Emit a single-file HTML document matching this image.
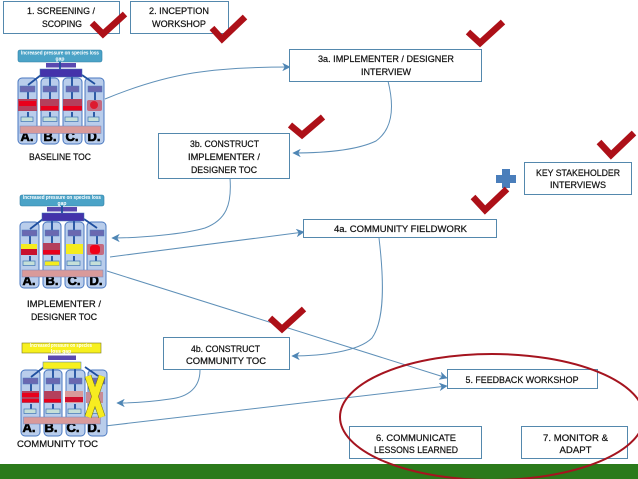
<!DOCTYPE html>
<html><head><meta charset="utf-8"><style>
html,body{margin:0;padding:0;background:#fff}
svg{display:block}
text{font-family:"Liberation Sans",sans-serif;font-size:9.500px;fill:#111;text-anchor:middle;stroke:#111;stroke-width:.22}
.b{fill:#fff;stroke:#5488ad;stroke-width:1}
.c{fill:none;stroke:#5f90b8;stroke-width:1}
.k{fill:none;stroke:#ad1018;stroke-width:6.500}
.col{fill:#b9cdeb;stroke:#4a78c0;stroke-width:1}
.p{fill:#6a68b0;stroke:#4a78c0;stroke-width:.5}
.g{fill:#c5dfd8;stroke:#3f74b5;stroke-width:.7}
.l{stroke:#1f4f9f;stroke-width:1.800;fill:none}
.lt{font-size:13px;font-weight:bold;fill:#000;stroke:#000;stroke-width:.6}
.tiny{font-size:5px;font-weight:bold;fill:#fff;stroke:none}
</style></head><body>
<svg width="638" height="479" viewBox="0 0 638 479" xmlns="http://www.w3.org/2000/svg">
<defs>
<marker id="a" markerWidth="9" markerHeight="8" refX="8" refY="4" orient="auto" markerUnits="userSpaceOnUse"><path d="M1,.5 L8,4 L1,7.5 L3,4 Z" fill="#4f86b5" stroke="#4f86b5" stroke-width=".6"/></marker>
<g id="cols">
<rect class="col" x="18" y="78" width="19" height="66" rx="4"/>
<rect class="col" x="41" y="78" width="18" height="66" rx="4"/>
<rect class="col" x="63" y="78" width="19" height="66" rx="4"/>
<rect class="col" x="85" y="78" width="19" height="66" rx="4"/>
<path class="l" d="M50,77 V86 M72,77 V86 M28,85 L41,75 M82,75 L95,84 M28,92 V100 M50,92 V100 M72,92 V100 M95,92 V100 M28,112 V117 M50,112 V117 M72,112 V117 M94,112 V117"/>
<rect class="p" x="20" y="86" width="15" height="6"/><rect class="p" x="43" y="86" width="14" height="6"/><rect class="p" x="66" y="86" width="13" height="6"/><rect class="p" x="88" y="86" width="14" height="6"/>
<rect class="g" x="21" y="117" width="12" height="4.500"/><rect class="g" x="43" y="117" width="14" height="4.500"/><rect class="g" x="65" y="117" width="13" height="4.500"/><rect class="g" x="88" y="117" width="11" height="4.500"/>
</g>
</defs>

<!-- ground -->
<rect x="0" y="464" width="638" height="15" fill="#2b7a1b"/>

<!-- connectors -->
<path class="c" marker-end="url(#a)" d="M105,99 C170,72 215,67 290,67"/>
<path class="c" marker-end="url(#a)" d="M388,81 C394,105 394,128 376,141 C355,151 320,153 293,153"/>
<path class="c" marker-end="url(#a)" d="M230,178 C232,205 226,220 205,228 C185,234 140,238 112,238"/>
<path class="c" marker-end="url(#a)" d="M110,257 L304,232"/>
<path class="c" marker-end="url(#a)" d="M107,271 L447,378"/>
<path class="c" marker-end="url(#a)" d="M379,238 C384,280 385,320 372,338 C358,352 320,356 292,356"/>
<path class="c" marker-end="url(#a)" d="M200,370 C200,388 188,397 170,399 C150,402 130,403 117,403"/>
<path class="c" marker-end="url(#a)" d="M105,426 L447,386"/>

<!-- mini TOC 1 -->
<g>
<use href="#cols"/>
<rect x="18" y="50" width="84" height="12" rx="2" fill="#4ba3c7" stroke="#2f7ea6" stroke-width=".6"/>
<text class="tiny" x="60" y="54.500" textLength="78" lengthAdjust="spacingAndGlyphs">Increased pressure on species loss</text>
<text class="tiny" x="60" y="60.500">gap</text>
<rect x="46" y="63" width="30" height="4.500" fill="#5a48b0"/>
<rect x="40" y="69" width="42" height="8" fill="#4433aa" stroke="#3f74b5" stroke-width=".5"/>
<path class="l" d="M60,62 V69"/>
<rect x="18" y="99" width="19" height="12" fill="#b4405c"/><rect x="19" y="101" width="17" height="5" fill="#e8001c"/>
<rect x="40" y="99" width="19" height="12" fill="#b4405c"/><rect x="41" y="106" width="17" height="4" fill="#e8001c"/>
<rect x="63" y="99" width="19" height="12" fill="#b4405c"/><rect x="63" y="106" width="19" height="4" fill="#e8001c"/>
<rect x="87" y="100" width="15" height="11" rx="2" fill="#c46a80"/><circle cx="94" cy="105" r="4" fill="#dd1a2e"/>
<text class="lt" x="27" y="141">A.</text><text class="lt" x="50" y="141">B.</text><text class="lt" x="72" y="141">C.</text><text class="lt" x="94" y="141">D.</text>
<rect x="20" y="126" width="81" height="7.500" fill="#d99a9a" stroke="#6f86c4" stroke-width=".5"/>
</g>

<!-- mini TOC 2 -->
<g transform="translate(2,144)">
<use href="#cols"/>
<rect x="18" y="51" width="84" height="11" rx="2" fill="#4ba3c7" stroke="#2f7ea6" stroke-width=".6"/>
<text class="tiny" x="60" y="55" textLength="78" lengthAdjust="spacingAndGlyphs">Increased pressure on species loss</text>
<text class="tiny" x="60" y="61">gap</text>
<rect x="45" y="63" width="30" height="4.500" fill="#5a48b0"/>
<rect x="40" y="69" width="42" height="8" fill="#4433aa" stroke="#3f74b5" stroke-width=".5"/>
<path class="l" d="M60,62 V69"/>
<rect x="19" y="100" width="16" height="5.500" fill="#f5ec1e"/><rect x="19" y="105" width="16" height="6" fill="#c8102e"/>
<rect x="41" y="99" width="17" height="12" fill="#b4405c"/><rect x="41" y="106" width="17" height="4" fill="#e8001c"/>
<rect x="64" y="100" width="17" height="10" fill="#f5ec1e"/>
<rect x="85" y="100" width="17" height="11" rx="2" fill="#c46a80"/><rect x="88" y="101" width="10" height="9" rx="3" fill="#f00018"/>
<rect x="43" y="117.500" width="14" height="4" fill="#f5ec1e"/>
<text class="lt" x="27" y="141">A.</text><text class="lt" x="50" y="141">B.</text><text class="lt" x="72" y="141">C.</text><text class="lt" x="94" y="141">D.</text>
<rect x="20" y="126" width="81" height="7" fill="#d99a9a" stroke="#6f86c4" stroke-width=".5"/>
</g>

<!-- mini TOC 3 -->
<g transform="translate(3,292)">
<use href="#cols"/>
<rect x="19" y="51" width="79" height="10" fill="#f7f01e" stroke="#7a7a20" stroke-width=".6"/>
<text class="tiny" x="58" y="55" textLength="62" lengthAdjust="spacingAndGlyphs">Increased pressure on species</text>
<text class="tiny" x="58" y="61">loss gap</text>
<rect x="45" y="63.500" width="28" height="4.500" fill="#5a48b0"/>
<rect x="40" y="70" width="38" height="7" fill="#f7f01e" stroke="#3f74b5" stroke-width=".5"/>
<rect x="19" y="99" width="17" height="12" fill="#b4405c"/><rect x="19" y="101" width="17" height="4" fill="#e8001c"/><rect x="19" y="107" width="17" height="3" fill="#e8001c"/>
<rect x="41" y="99" width="17" height="12" fill="#b4405c"/><rect x="41" y="107" width="17" height="3" fill="#e8001c"/>
<rect x="62" y="99" width="18" height="12" fill="#d99a9a"/><rect x="62" y="105" width="18" height="5" fill="#d0102e"/>
<rect x="83" y="100" width="17" height="11" fill="#c88a96"/>
<text class="lt" x="26" y="140">A.</text><text class="lt" x="48" y="140">B.</text><text class="lt" x="70" y="140">C.</text><text class="lt" x="91" y="140">D.</text>
<rect x="20.500" y="125" width="77" height="7" fill="#d99a9a" stroke="#6f86c4" stroke-width=".5"/>
<path d="M85,84 L99,125 M99,84 L85,125" fill="none" stroke="#6a6a10" stroke-width="7"/>
<path d="M85,84 L99,125 M99,84 L85,125" fill="none" stroke="#f7ec20" stroke-width="6"/>
</g>

<!-- boxes -->
<rect class="b" x="3.500" y="1.500" width="116" height="32"/>
<rect class="b" x="130.500" y="1.500" width="98" height="32"/>
<rect class="b" x="289.500" y="49.500" width="192" height="32"/>
<rect class="b" x="158.500" y="133.500" width="131" height="45"/>
<rect class="b" x="524.500" y="162.500" width="107" height="32"/>
<rect class="b" x="303.500" y="219.500" width="193" height="18"/>
<rect class="b" x="163.500" y="337.500" width="126" height="32"/>
<rect class="b" x="447.500" y="369.500" width="150" height="19"/>
<rect class="b" x="349.500" y="426.500" width="132" height="32"/>
<rect class="b" x="521.500" y="426.500" width="106" height="32"/>

<!-- labels -->
<text x="61" y="14" textLength="68" lengthAdjust="spacingAndGlyphs">1. SCREENING /</text>
<text x="62" y="27" textLength="40" lengthAdjust="spacingAndGlyphs">SCOPING</text>
<text x="179" y="14" textLength="60" lengthAdjust="spacingAndGlyphs">2. INCEPTION</text>
<text x="179" y="27" textLength="54" lengthAdjust="spacingAndGlyphs">WORKSHOP</text>
<text x="386" y="62" textLength="136" lengthAdjust="spacingAndGlyphs">3a. IMPLEMENTER / DESIGNER</text>
<text x="386" y="75" textLength="50" lengthAdjust="spacingAndGlyphs">INTERVIEW</text>
<text x="224.500" y="147" textLength="69" lengthAdjust="spacingAndGlyphs">3b. CONSTRUCT</text>
<text x="224" y="160" textLength="72" lengthAdjust="spacingAndGlyphs">IMPLEMENTER /</text>
<text x="224" y="173" textLength="66" lengthAdjust="spacingAndGlyphs">DESIGNER TOC</text>
<text x="578" y="176" textLength="84" lengthAdjust="spacingAndGlyphs">KEY STAKEHOLDER</text>
<text x="578" y="188" textLength="56" lengthAdjust="spacingAndGlyphs">INTERVIEWS</text>
<text x="400.500" y="232" textLength="133" lengthAdjust="spacingAndGlyphs">4a. COMMUNITY FIELDWORK</text>
<text x="225.500" y="352" textLength="69" lengthAdjust="spacingAndGlyphs">4b. CONSTRUCT</text>
<text x="226" y="364" textLength="80" lengthAdjust="spacingAndGlyphs">COMMUNITY TOC</text>
<text x="522" y="383" textLength="113" lengthAdjust="spacingAndGlyphs">5. FEEDBACK WORKSHOP</text>
<text x="416" y="441" textLength="80" lengthAdjust="spacingAndGlyphs">6. COMMUNICATE</text>
<text x="416" y="453" textLength="84" lengthAdjust="spacingAndGlyphs">LESSONS LEARNED</text>
<text x="575.500" y="441" textLength="65" lengthAdjust="spacingAndGlyphs">7. MONITOR &amp;</text>
<text x="575.500" y="453" textLength="32" lengthAdjust="spacingAndGlyphs">ADAPT</text>
<text x="60" y="160" textLength="62" lengthAdjust="spacingAndGlyphs">BASELINE TOC</text>
<text x="64" y="307" textLength="74" lengthAdjust="spacingAndGlyphs">IMPLEMENTER /</text>
<text x="64" y="320" textLength="66" lengthAdjust="spacingAndGlyphs">DESIGNER TOC</text>
<text x="57.500" y="447" textLength="81" lengthAdjust="spacingAndGlyphs">COMMUNITY TOC</text>

<!-- ellipse -->
<ellipse cx="492" cy="417" rx="152" ry="63" fill="none" stroke="#a5141f" stroke-width="2"/>

<!-- plus -->
<path d="M502,169 H510 V175 H516 V183 H510 V188 H502 V183 H496 V175 H502 Z" fill="#4a7ebb"/>

<!-- checks -->
<path class="k" d="M92,23 L103,34 L125,14"/>
<path class="k" d="M212,28 L222,39 L245,17"/>
<path class="k" d="M468,32 L480,43 L503,22"/>
<path class="k" d="M290,125 L302,135 L323,117"/>
<path class="k" d="M599,142 L611,155 L634,133"/>
<path class="k" d="M473,197 L485,210 L507,189"/>
<path class="k" d="M270,318 L282,329 L304,309"/>
</svg>
</body></html>
